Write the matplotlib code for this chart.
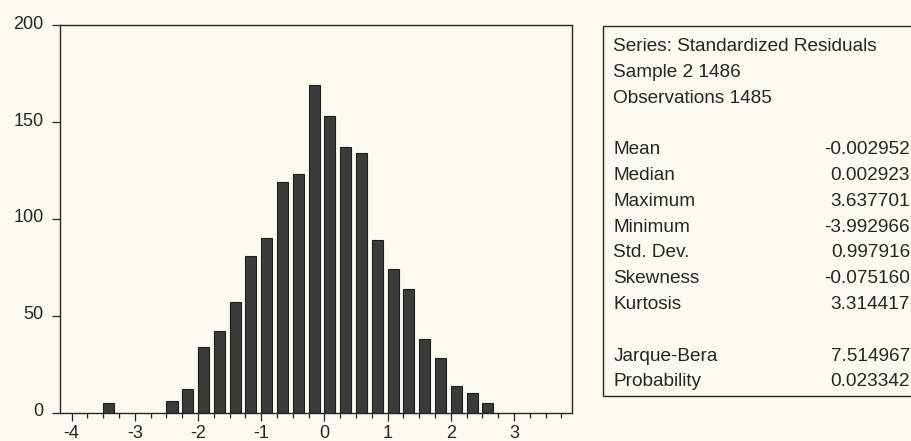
import matplotlib
matplotlib.use('Agg')
import matplotlib.pyplot as plt
from matplotlib.ticker import FixedLocator, MultipleLocator
from matplotlib.patches import Rectangle
import matplotlib.transforms as mtransforms

plt.rcParams['font.family'] = ['Liberation Sans', 'DejaVu Sans']
plt.rcParams['axes.unicode_minus'] = False

# ---- data ----
bin_left = [-3.5, -2.5, -2.25, -2.0, -1.75, -1.5, -1.25, -1.0, -0.75, -0.5,
            -0.25, 0.0, 0.25, 0.5, 0.75, 1.0, 1.25, 1.5, 1.75, 2.0, 2.25, 2.5]
counts = [5, 6, 12, 34, 42, 57, 81, 90, 119, 123,
          169, 153, 137, 134, 89, 74, 64, 38, 28, 14, 10, 5]
x_ticks = [-4, -3, -2, -1, 0, 1, 2, 3]
y_ticks = [0, 50, 100, 150, 200]

header_lines = ["Series: Standardized Residuals", "Sample 2 1486", "Observations 1485"]
stat_names = ["Mean", "Median", "Maximum", "Minimum", "Std. Dev.", "Skewness", "Kurtosis"]
stat_values = ["-0.002952", "0.002923", "3.637701", "-3.992966", "0.997916", "-0.075160", "3.314417"]
test_names = ["Jarque-Bera", "Probability"]
test_values = ["7.514967", "0.023342"]

W, H = 911, 441
bg = '#fbfbf1'
ink = '#262626'

fig = plt.figure(figsize=(W / 100, H / 100), dpi=100, facecolor=bg)

def fx(px):
    return px / W

def fy(py):
    return 1 - py / H

ax_left, ax_right, ax_top, ax_bot = 60.3, 572.3, 25.3, 412.7
ax = fig.add_axes([fx(ax_left), fy(ax_bot), fx(ax_right - ax_left), (ax_bot - ax_top) / H])
ax.set_facecolor(bg)

ax.bar(bin_left, counts, width=0.175, align='edge', color='#3b3b3b',
       edgecolor='#1e1e1e', linewidth=0.8, zorder=2)

ax.set_xlim(-4.18, 3.923)
ax.set_ylim(0, 200)

ax.xaxis.set_major_locator(FixedLocator(x_ticks))
ax.xaxis.set_minor_locator(MultipleLocator(0.25))
ax.yaxis.set_major_locator(FixedLocator(y_ticks))
ax.set_xticklabels([str(v) for v in x_ticks])
ax.set_yticklabels([str(v) for v in y_ticks])

ax.tick_params(axis='x', which='major', direction='out', length=6, width=0.9,
               color=ink, labelsize=13, pad=3, labelcolor=ink)
ax.tick_params(axis='x', which='minor', direction='out', length=3.6, width=0.9, color=ink)
ax.tick_params(axis='y', which='major', direction='out', length=6, width=0.9,
               color=ink, labelsize=13, pad=6, labelcolor=ink)

offset = mtransforms.ScaledTranslation(0, 3 / 100, fig.dpi_scale_trans)
for lab in ax.get_yticklabels():
    lab.set_transform(lab.get_transform() + offset)

for sp in ax.spines.values():
    sp.set_color(ink)
    sp.set_linewidth(1.0)

# ---- statistics box ----
box_left, box_top, box_bot = 603.3, 25.7, 396
rect = Rectangle((fx(box_left), fy(box_bot)), fx(W + 20 - box_left), (box_bot - box_top) / H,
                 transform=fig.transFigure, facecolor='none', edgecolor=ink,
                 linewidth=1.0, clip_on=False)
fig.add_artist(rect)

row0 = 44.5
step = 25.8
fs = 13.7
tx_left = 613.3
tx_right = 910
base_off = 6.5

rows = []
for t in header_lines:
    rows.append((t, None))
rows.append((None, None))
for n, v in zip(stat_names, stat_values):
    rows.append((n, v))
rows.append((None, None))
for n, v in zip(test_names, test_values):
    rows.append((n, v))

for i, (name, val) in enumerate(rows):
    y = row0 + i * step + base_off
    if name:
        fig.text(fx(tx_left), fy(y), name, fontsize=fs, color=ink, ha='left', va='baseline')
    if val:
        fig.text(fx(tx_right), fy(y), val, fontsize=fs, color=ink, ha='right', va='baseline')

fig.savefig('out.png', dpi=100, facecolor=bg)
